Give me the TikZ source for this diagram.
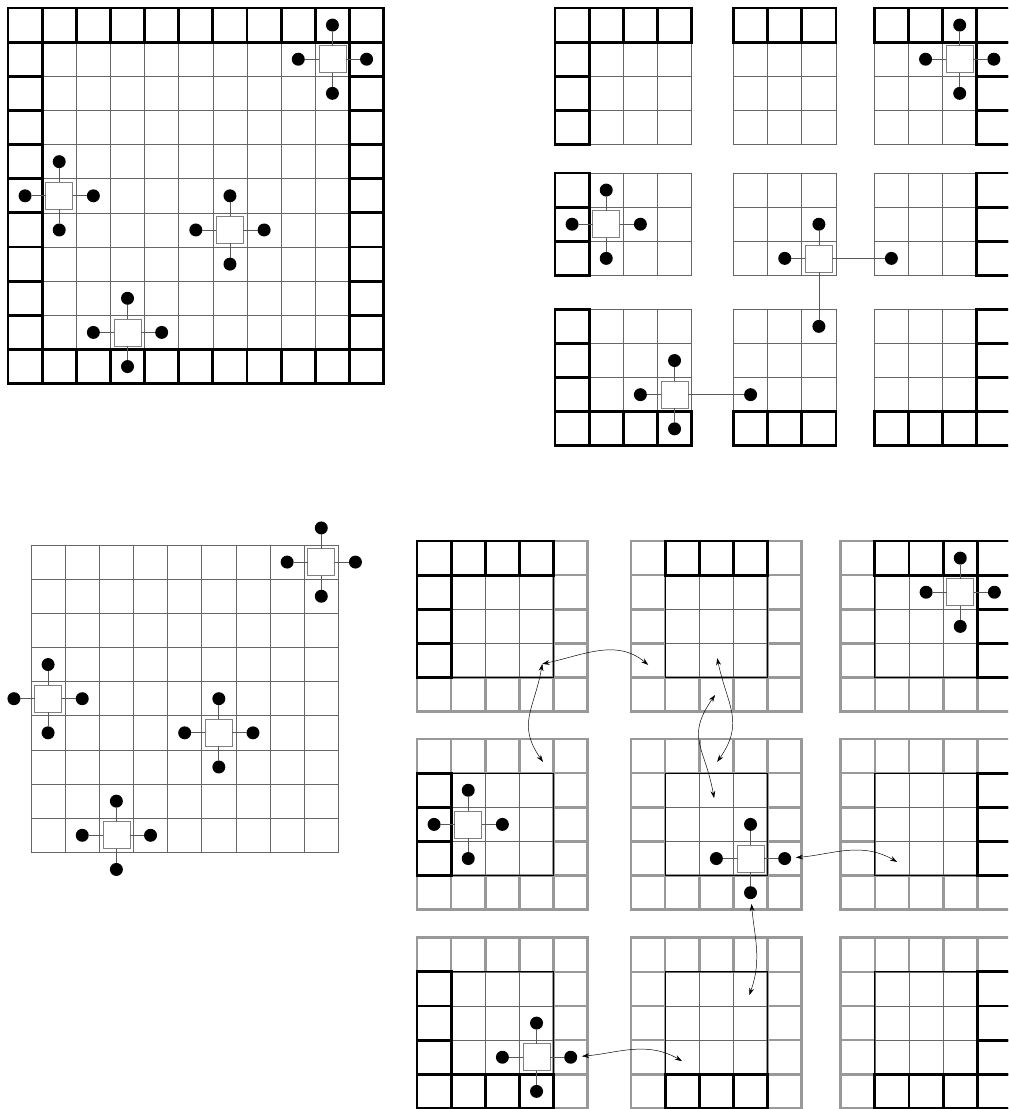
\documentclass[tikz,border=0pt]{standalone}
\usepackage{tikz}
\usetikzlibrary{positioning, arrows.meta}

\begin{document}
\begin{tikzpicture}[>={Stealth[length=6pt,width=4pt]}, node distance=1cm, on grid,
    inner cell/.style={draw=black!60, line width=0.6pt},
    bnd cell/.style={draw=black, line width=2.4pt},
    ghost cell/.style={draw=black!40, line width=2.2pt},
    own frame/.style={draw=black, line width=0.9pt},
    sten/.style={draw=black!50, fill=white, minimum size=0.79cm, inner sep=0pt, outer sep=0pt, line width=0.6pt},
    nbr/.style={circle, fill=black, minimum size=0.38cm, inner sep=0pt, outer sep=0pt},
    lnk/.style={draw=black!65, line width=0.6pt},
    xch/.style={<->, line width=0.4pt}]

  \useasboundingbox (0,0) rectangle (29.517,-32.474);
  \clip (0,0) rectangle (29.517,-32.474);

  % whole domain, boundary ring drawn thick
  \begin{scope}[shift={(0.234,-0.234)}]
    \foreach \i in {1,...,9}
      \foreach \j in {1,...,9}
        \draw[inner cell] (\i,-\j) rectangle ++(1,-1);
    \foreach \k in {0,...,10} {
      \draw[bnd cell] (\k,0) rectangle ++(1,-1);
      \draw[bnd cell] (\k,-10) rectangle ++(1,-1);
      \draw[bnd cell] (0,-\k) rectangle ++(1,-1);
      \draw[bnd cell] (10,-\k) rectangle ++(1,-1);
    }
  \end{scope}

  % domain cut into 3x3 blocks
  \foreach \cz/\co/\bx in {0/3/16.252, 4/6/21.479, 7/10/25.602}
    \foreach \rz/\ro/\by in {0/3/0.234, 4/6/5.066, 7/10/9.057}
    {
      \begin{scope}[shift={(\bx-\cz,\rz-\by)}]
        \foreach \i in {\cz,...,\co}
          \foreach \j in {\rz,...,\ro}
            \draw[inner cell] (\i,-\j) rectangle ++(1,-1);
        \foreach \i in {\cz,...,\co}
          \foreach \j in {\rz,...,\ro}
          {
            \pgfmathtruncatemacro\onedge{(\i==0)||(\i==10)||(\j==0)||(\j==10)}
            \ifnum\onedge=1 \draw[bnd cell] (\i,-\j) rectangle ++(1,-1); \fi
          }
      \end{scope}
    }

  % interior only
  \begin{scope}[shift={(-0.092,-14.959)}]
    \foreach \i in {1,...,9}
      \foreach \j in {1,...,9}
        \draw[inner cell] (\i,-\j) rectangle ++(1,-1);
  \end{scope}

  % blocks with their ghost layer
  \foreach \gz/\gc/\cz/\co/\bx in {0/4/0/3/12.211, 3/7/4/6/18.477, 6/10/7/10/24.618}
    \foreach \hz/\hc/\rz/\ro/\by in {0/4/0/3/15.842, 3/7/4/6/21.640, 6/10/7/10/27.458}
    {
      \begin{scope}[shift={(\bx-\gz,\hz-\by)}]
        \foreach \i in {\gz,...,\gc}
          \foreach \j in {\hz,...,\hc}
          {
            \pgfmathtruncatemacro\mine{(\i>=\cz)&&(\i<=\co)&&(\j>=\rz)&&(\j<=\ro)}
            \ifnum\mine=0 \draw[ghost cell] (\i,-\j) rectangle ++(1,-1); \fi
          }
        \foreach \i in {\cz,...,\co}
          \foreach \j in {\rz,...,\ro}
            \draw[inner cell] (\i,-\j) rectangle ++(1,-1);
        \draw[own frame] (\cz,-\rz) rectangle (\co+1,-\ro-1);
        \foreach \i in {\cz,...,\co}
          \foreach \j in {\rz,...,\ro}
          {
            \pgfmathtruncatemacro\onedge{(\i==0)||(\i==10)||(\j==0)||(\j==10)}
            \ifnum\onedge=1 \draw[bnd cell] (\i,-\j) rectangle ++(1,-1); \fi
          }
      \end{scope}
    }

  % five point stencils
  \foreach \nm/\x/\y/\egap/\sgap in {a1/9.734/-1.734/1cm/1cm, a2/1.734/-5.734/1cm/1cm,
      a3/6.734/-6.734/1cm/1cm, a4/3.734/-9.734/1cm/1cm,
      b1/28.102/-1.734/1cm/1cm, b2/17.752/-6.566/1cm/1cm,
      b3/23.979/-7.566/2.123cm/1.991cm, b4/19.752/-11.557/2.227cm/1cm,
      c1/9.408/-16.459/1cm/1cm, c2/1.408/-20.459/1cm/1cm,
      c3/6.408/-21.459/1cm/1cm, c4/3.408/-24.459/1cm/1cm,
      d1/28.118/-17.342/1cm/1cm, d2/13.711/-24.140/1cm/1cm,
      d3/21.977/-25.140/1cm/1cm, d4/15.711/-30.958/1cm/1cm}
  {
    \node[sten] (\nm) at (\x,\y) {};
    \node[nbr, above=1cm of \nm] (\nm n) {};
    \node[nbr, left=1cm of \nm] (\nm w) {};
    \node[nbr, right=\egap of \nm] (\nm e) {};
    \node[nbr, below=\sgap of \nm] (\nm s) {};
    \draw[lnk] (\nm) -- (\nm n) (\nm) -- (\nm w) (\nm) -- (\nm e) (\nm) -- (\nm s);
  }

  % ghost exchange
  \coordinate (g33a) at (15.88,-19.44);
  \coordinate (g33b) at (18.98,-19.47);
  \coordinate (g33c) at (15.90,-22.31);
  \coordinate (g53a) at (21.00,-19.27);
  \coordinate (g53b) at (21.00,-22.31);
  \coordinate (g54a) at (20.94,-20.35);
  \coordinate (g54b) at (20.91,-23.37);
  \coordinate (g76) at (26.27,-25.24);
  \coordinate (g67) at (21.94,-29.14);
  \coordinate (g49) at (19.97,-31.07);

  \draw[xch] (g33a) to[out=12,in=140] (g33b);
  \draw[xch] (g33a) to[out=-100,in=125,looseness=1.2] (g33c);
  \draw[xch] (g53a) to[out=-78,in=55,looseness=1.2] (g53b);
  \draw[xch] (g54a) to[out=-125,in=100,looseness=1.3] (g54b);
  \draw[xch, shorten <=4pt] (d3e) to[out=5,in=150] (g76);
  \draw[xch, shorten <=4pt] (d3s) to[out=-85,in=70] (g67);
  \draw[xch, shorten <=4pt] (d4e) to[out=5,in=150] (g49);
\end{tikzpicture}
\end{document}
